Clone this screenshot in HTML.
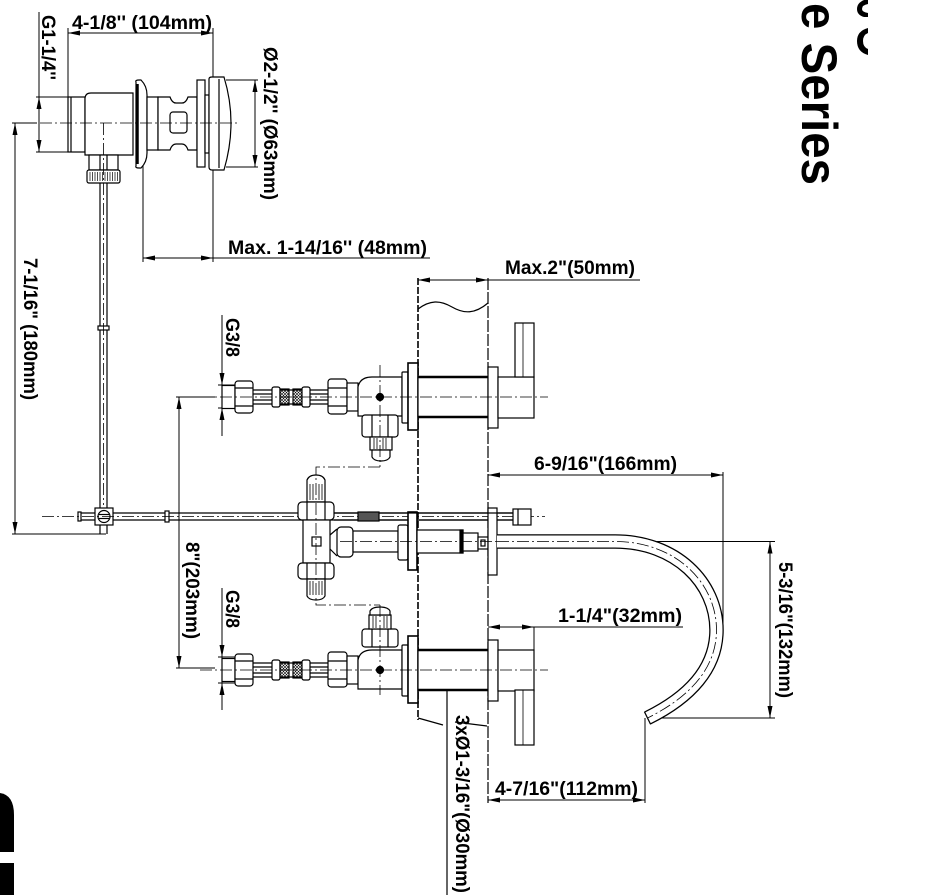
<!DOCTYPE html>
<html><head><meta charset="utf-8">
<style>
html,body{margin:0;padding:0;background:#fff;}
svg{display:block;}
text{font-family:"Liberation Sans",Arial,sans-serif;font-weight:bold;font-size:19px;fill:#000;stroke:none;}
.cl{stroke-dasharray:12 3 2 3;stroke-width:0.8;fill:none;}
</style></head><body>
<svg width="951" height="895" viewBox="0 0 951 895" xmlns="http://www.w3.org/2000/svg">
<defs>
<pattern id="hx" width="3" height="3" patternUnits="userSpaceOnUse"><path d="M0 3L3 0M0 0L3 3" stroke="#000" stroke-width="0.6"/></pattern>
<g id="valve" fill="#fff" stroke="#000" stroke-width="1.2">
<rect x="222" y="-11.5" width="13" height="23"/>
<rect x="235" y="-16" width="18" height="32" rx="3"/>
<line x1="235" y1="-9" x2="253" y2="-9"/><line x1="235" y1="9" x2="253" y2="9"/>
<line x1="253" y1="-7" x2="328" y2="-7"/><line x1="253" y1="7" x2="328" y2="7"/>
<line x1="253" y1="-3" x2="272" y2="-3"/><line x1="253" y1="3" x2="272" y2="3"/>
<line x1="310" y1="-3" x2="328" y2="-3"/><line x1="310" y1="3" x2="328" y2="3"/>
<rect x="272" y="-10" width="8" height="20" rx="2"/>
<rect x="280" y="-8" width="9" height="16" fill="url(#hx)"/>
<rect x="293" y="-8" width="9" height="16" fill="url(#hx)"/>
<rect x="302" y="-10" width="8" height="20" rx="2"/>
<rect x="328" y="-18" width="19" height="35" rx="3"/>
<line x1="328" y1="-9" x2="347" y2="-9"/><line x1="328" y1="9" x2="347" y2="9"/>
<rect x="347" y="-14" width="11" height="28"/>
<path d="M358 19 L358 -10 Q360 -20 372 -20 L402 -20 L402 19 Z"/>
<circle cx="380" cy="0" r="3.5" fill="#000"/>
<rect x="402" y="-25" width="6" height="51" rx="1"/>
<rect x="408" y="-34" width="10" height="67" stroke-width="1.6"/>
<rect x="418" y="-20" width="70" height="40"/>
<line x1="418" y1="-20" x2="488" y2="-20" stroke-width="2.5"/>
<line x1="418" y1="20" x2="488" y2="20" stroke-width="2.5"/>
<rect x="488" y="-30" width="10" height="61"/>
<rect x="498" y="-20" width="36" height="41"/>
<line x1="200" y1="0" x2="548" y2="0" class="cl"/>
</g>
</defs>

<g stroke="#000" stroke-width="1.2" fill="none">
<!-- wall -->
<line x1="418" y1="278" x2="418" y2="720" stroke-width="1.6" stroke-dasharray="7 2"/>
<line x1="488" y1="278" x2="488" y2="803" stroke-dasharray="12 2"/>
<path d="M418 309 C430 300 440 300 452 307 S475 314 488 303"/>
<line x1="418" y1="718" x2="443" y2="725"/>
<line x1="455" y1="722" x2="487" y2="726"/>

<!-- ===== top flush valve dims ===== -->
<line x1="68" y1="33" x2="213" y2="33" stroke-width="1"/>
<line x1="68" y1="28" x2="68" y2="97" stroke-width="1"/>
<line x1="213" y1="28" x2="213" y2="262" stroke-width="1"/>
<line x1="39" y1="12" x2="39" y2="152" stroke-width="1"/>
<line x1="36" y1="97" x2="68" y2="97" stroke-width="1"/>
<line x1="36" y1="152" x2="86" y2="152" stroke-width="1"/>
<line x1="255" y1="80" x2="255" y2="167" stroke-width="1"/>
<line x1="226" y1="80" x2="258" y2="80" stroke-width="1"/>
<line x1="226" y1="167" x2="258" y2="167" stroke-width="1"/>
<line x1="143" y1="258" x2="430" y2="258" stroke-width="1"/>
<line x1="143" y1="160" x2="143" y2="262" stroke-width="1"/>
<line x1="15" y1="123" x2="15" y2="534" stroke-width="1"/>
<line x1="12" y1="123" x2="37" y2="123" stroke-width="1"/>
<line x1="12" y1="534" x2="106" y2="534" stroke-width="1"/>

<!-- 8" dim and G3/8 dims -->
<line x1="176" y1="397" x2="215" y2="397" stroke-width="1"/>
<line x1="179" y1="397" x2="179" y2="668" stroke-width="1"/>
<line x1="176" y1="668" x2="215" y2="668" stroke-width="1"/>
<line x1="222" y1="315" x2="222" y2="436" stroke-width="1"/>
<line x1="218" y1="385" x2="235" y2="385" stroke-width="1"/>
<line x1="218" y1="408" x2="235" y2="408" stroke-width="1"/>
<line x1="222" y1="588" x2="222" y2="710" stroke-width="1"/>
<line x1="218" y1="657" x2="235" y2="657" stroke-width="1"/>
<line x1="218" y1="683" x2="235" y2="683" stroke-width="1"/>

<!-- right dims -->
<line x1="418" y1="280" x2="640" y2="280" stroke-width="1"/>
<line x1="488" y1="475" x2="723" y2="475" stroke-width="1"/>
<line x1="723" y1="472" x2="723" y2="628" stroke-width="1"/>
<line x1="630" y1="541.5" x2="775" y2="541.5" stroke-width="1"/>
<line x1="656" y1="718" x2="775" y2="718" stroke-width="1"/>
<line x1="770" y1="541.5" x2="770" y2="718" stroke-width="1"/>
<line x1="488" y1="627" x2="683" y2="627" stroke-width="1"/>
<line x1="534" y1="627" x2="534" y2="650" stroke-width="1"/>
<line x1="488" y1="800" x2="645" y2="800" stroke-width="1"/>
<line x1="645" y1="718" x2="645" y2="803" stroke-width="1"/>
<line x1="447" y1="653" x2="447" y2="895" stroke-width="1.2"/>
</g>

<!-- arrowheads -->
<g fill="#000" stroke="none">
<polygon points="68,33 80,30.5 80,35.5"/>
<polygon points="213,33 201,30.5 201,35.5"/>
<polygon points="39,97 36.5,109 41.5,109"/>
<polygon points="39,152 36.5,140 41.5,140"/>
<polygon points="255,80 252.5,92 257.5,92"/>
<polygon points="255,167 252.5,155 257.5,155"/>
<polygon points="143,258 155,255.5 155,260.5"/>
<polygon points="213,258 201,255.5 201,260.5"/>
<polygon points="15,123 12.5,135 17.5,135"/>
<polygon points="15,534 12.5,522 17.5,522"/>
<polygon points="179,397 176.5,409 181.5,409"/>
<polygon points="179,668 176.5,656 181.5,656"/>
<polygon points="222,385 219.5,373 224.5,373"/>
<polygon points="222,408 219.5,420 224.5,420"/>
<polygon points="222,657 219.5,645 224.5,645"/>
<polygon points="222,683 219.5,695 224.5,695"/>
<polygon points="418,280 430,277.5 430,282.5"/>
<polygon points="488,280 476,277.5 476,282.5"/>
<polygon points="488,475 500,472.5 500,477.5"/>
<polygon points="723,475 711,472.5 711,477.5"/>
<polygon points="770,541.5 767.5,553.5 772.5,553.5"/>
<polygon points="770,718 767.5,706 772.5,706"/>
<polygon points="488,627 500,624.5 500,629.5"/>
<polygon points="534,627 522,624.5 522,629.5"/>
<polygon points="488,800 500,797.5 500,802.5"/>
<polygon points="645,800 633,797.5 633,802.5"/>
<polygon points="447,653 444.5,665 449.5,665"/>
<polygon points="447,690 444.5,678 449.5,678"/>
</g>

<!-- ===== top flush valve drawing ===== -->
<g fill="#fff" stroke="#000" stroke-width="1.2">
<line x1="100" y1="183" x2="100" y2="508"/>
<line x1="107" y1="183" x2="107" y2="508"/>
<rect x="98" y="326" width="11" height="4"/>
<rect x="68" y="97" width="17" height="55"/>
<line x1="71" y1="97" x2="71" y2="152"/>
<path d="M85 155 L85 99 Q85 93 91 93 L133 93 L133 155 Z"/>
<rect x="89" y="155" width="29" height="15"/>
<line x1="100" y1="155" x2="100" y2="170"/><line x1="107" y1="155" x2="107" y2="170"/>
<rect x="87" y="170" width="33" height="13" rx="2"/>
<path d="M90 172V181M92.5 172V181M95 172V181M97.5 172V181M100 172V181M102.5 172V181M105 172V181M107.5 172V181M110 172V181M112.5 172V181M115 172V181M117.5 172V181" stroke-width="0.7"/>
<path d="M136 82 Q135 80 139 80 L141 80 Q147 86 147 95 L147 153 Q147 162 141 168 L139 168 Q135 168 136 166 Z"/>
<line x1="137.5" y1="84" x2="137.5" y2="164" stroke-width="2.5"/>
<rect x="147" y="97" width="11" height="53"/>
<path d="M158 97 L170 97 Q172 103 176 103 L182 103 Q186 103 188 97 L197 97 L197 150 L188 150 Q186 144 182 144 L176 144 Q172 144 170 150 L158 150 Z"/>
<rect x="170" y="112" width="17" height="21" rx="3"/>
<rect x="197" y="80" width="8" height="87"/>
<rect x="205" y="95" width="4" height="58"/>
<path d="M209 79 Q209 77 212 77 L224 77 Q231 100 231 123 Q231 146 224 170 L212 170 Q209 170 209 167 Z"/>
<line x1="219" y1="79" x2="219" y2="168"/>
<!-- clamp & horizontal rod -->
<line x1="80" y1="513" x2="513" y2="513"/>
<line x1="80" y1="520" x2="513" y2="520"/>
<rect x="78" y="512" width="3" height="9"/>
<rect x="165" y="511" width="4" height="11"/>
<line x1="100" y1="525" x2="100" y2="534"/><line x1="107" y1="525" x2="107" y2="534"/>
<rect x="95" y="508" width="18" height="17"/>
<circle cx="104" cy="516.5" r="6"/>
<line x1="99" y1="514.5" x2="109" y2="514.5"/><line x1="99" y1="518.5" x2="109" y2="518.5"/>
</g>
<g stroke="#000">
<line x1="40" y1="123" x2="237" y2="123" class="cl"/>
<line x1="103.5" y1="123" x2="103.5" y2="505" class="cl"/>
<line x1="42" y1="516.5" x2="545" y2="516.5" class="cl"/>
</g>

<!-- ===== main valves ===== -->
<use href="#valve" x="0" y="397"/>
<use href="#valve" x="0" y="670"/>

<g fill="#fff" stroke="#000" stroke-width="1.2">
<!-- top valve extras -->
<rect x="515" y="323" width="19" height="54"/>
<line x1="523" y1="323" x2="523" y2="377" stroke-width="0.8"/>
<rect x="362" y="415" width="36" height="22" rx="3"/>
<line x1="372" y1="415" x2="372" y2="437"/><line x1="388" y1="415" x2="388" y2="437"/>
<rect x="370" y="437" width="22" height="13"/>
<path d="M374 438V449M377 438V449M383 438V449M386 438V449" stroke-width="0.8"/>
<path d="M372 450 L390 450 L390 457 Q388 461 381 461 Q374 461 372 457 Z"/>
<!-- bottom valve extras -->
<rect x="515" y="690" width="19" height="55"/>
<line x1="523" y1="690" x2="523" y2="745" stroke-width="0.8"/>
<rect x="362" y="629" width="36" height="18" rx="3"/>
<line x1="372" y1="629" x2="372" y2="647"/><line x1="388" y1="629" x2="388" y2="647"/>
<rect x="369" y="615" width="22" height="14"/>
<path d="M373 616V628M376 616V628M384 616V628M387 616V628" stroke-width="0.8"/>
<path d="M370 615 L370 611 Q372 607 380 607 Q388 607 390 611 L390 615 Z"/>

<!-- T fitting -->
<path d="M307 502 L307 480 Q309 475 316 475 Q323 475 325 480 L325 502 Z"/>
<path d="M310 484V500M313 484V500M319 484V500M322 484V500" stroke-width="0.8"/>
<rect x="298" y="502" width="36" height="18" rx="4"/>
<line x1="307" y1="502" x2="307" y2="520"/><line x1="325" y1="502" x2="325" y2="520"/>
<rect x="303" y="520" width="27" height="43"/>
<rect x="312" y="537" width="9" height="9"/>
<path d="M330 535 L337 529 M330 549 L337 556" fill="none"/>
<rect x="337" y="527" width="16" height="30" rx="4"/>
<rect x="298" y="563" width="36" height="16" rx="4"/>
<line x1="307" y1="563" x2="307" y2="579"/><line x1="325" y1="563" x2="325" y2="579"/>
<path d="M307 579 L325 579 L325 596 Q323 600 316 600 Q309 600 307 596 Z"/>
<path d="M310 581V595M313 581V595M319 581V595M322 581V595" stroke-width="0.8"/>
<rect x="353" y="531" width="45" height="21"/>
<rect x="398" y="525" width="10" height="35" rx="2"/>
<rect x="408" y="512" width="9" height="58" stroke-width="1.6"/>
<rect x="417" y="530" width="46" height="23"/>
<rect x="460" y="530" width="3" height="23" fill="#000"/>
<rect x="463" y="533" width="15" height="18"/>
<rect x="478" y="537" width="10" height="12"/>
<rect x="481" y="540" width="4" height="6"/>
<rect x="488" y="508" width="9" height="67"/>
<!-- rod pieces over -->
<line x1="334" y1="513" x2="513" y2="513"/>
<line x1="334" y1="520" x2="408" y2="520"/>
<line x1="417" y1="520" x2="488" y2="520"/>
<line x1="497" y1="520" x2="513" y2="520"/>
<rect x="358" y="512" width="21" height="9" fill="#555"/>
<rect x="513" y="509" width="18" height="16"/>
<line x1="518" y1="509" x2="518" y2="525"/>
</g>

<!-- spout -->
<g fill="none">
<path d="M497 541.5 L615 541.5 C676 541.5 716.5 583 716.5 630 C716.5 668 690 697 647.5 718" stroke="#000" stroke-width="14.5"/>
<path d="M497 541.5 L615 541.5 C676 541.5 716.5 583 716.5 630 C716.5 668 690 697 647.5 718" stroke="#fff" stroke-width="12"/>
<line x1="650.6" y1="724.3" x2="644.4" y2="711.7" stroke="#000" stroke-width="1.2"/>
<path d="M497 541.5 L615 541.5 C676 541.5 716.5 583 716.5 630 C716.5 668 690 697 647.5 718" stroke="#000" class="cl"/>
<line x1="340" y1="541.5" x2="497" y2="541.5" stroke="#000" class="cl"/>
<line x1="380" y1="365" x2="380" y2="467" stroke="#000" class="cl"/>
<polyline points="380,467 316,467 316,605 380,605" stroke="#000" class="cl"/>
<line x1="380" y1="605" x2="380" y2="695" stroke="#000" class="cl"/>
</g>

<!-- texts -->
<text x="72" y="29" textLength="140" lengthAdjust="spacingAndGlyphs">4-1/8'' (104mm)</text>
<text x="228" y="254" textLength="199" lengthAdjust="spacingAndGlyphs">Max. 1-14/16'' (48mm)</text>
<text x="505" y="274" textLength="130" lengthAdjust="spacingAndGlyphs">Max.2"(50mm)</text>
<text x="534" y="470" textLength="143" lengthAdjust="spacingAndGlyphs">6-9/16"(166mm)</text>
<text x="558" y="622" textLength="124" lengthAdjust="spacingAndGlyphs">1-1/4"(32mm)</text>
<text x="495" y="795" textLength="143" lengthAdjust="spacingAndGlyphs">4-7/16"(112mm)</text>
<text transform="translate(42,15) rotate(90)" textLength="65" lengthAdjust="spacingAndGlyphs">G1-1/4''</text>
<text transform="translate(264,47) rotate(90)" textLength="153" lengthAdjust="spacingAndGlyphs">Ø2-1/2'' (Ø63mm)</text>
<text transform="translate(24,258) rotate(90)" textLength="142" lengthAdjust="spacingAndGlyphs">7-1/16" (180mm)</text>
<text transform="translate(226,318) rotate(90)" textLength="39" lengthAdjust="spacingAndGlyphs">G3/8</text>
<text transform="translate(226,590) rotate(90)" textLength="38" lengthAdjust="spacingAndGlyphs">G3/8</text>
<text transform="translate(186,542) rotate(90)" textLength="97" lengthAdjust="spacingAndGlyphs">8"(203mm)</text>
<text transform="translate(456,715) rotate(90)" textLength="178" lengthAdjust="spacingAndGlyphs">3xØ1-3/16"(Ø30mm)</text>
<text transform="translate(779,562) rotate(90)" textLength="136" lengthAdjust="spacingAndGlyphs">5-3/16"(132mm)</text>
<text transform="translate(802,3) rotate(90)" style="font-size:50px" textLength="182" lengthAdjust="spacingAndGlyphs">e Series</text>

<!-- partial glyphs -->
<g fill="#000">
<path d="M868 0 L864 0 Q857 3 857 9 Q857 15 864 17 L868 17 L868 13 Q862 12 862 9 Q862 5 868 4 Z"/>
<path d="M868 28 Q857 31 857 41 Q857 52 868 55 L868 49 Q863 47 863 41 Q863 35 868 33 Z"/>
<path d="M0 793 Q14 795 14 815 L14 852 L0 852 Z"/>
<rect x="0" y="863" width="14" height="32"/>
</g>
</svg>
</body></html>
